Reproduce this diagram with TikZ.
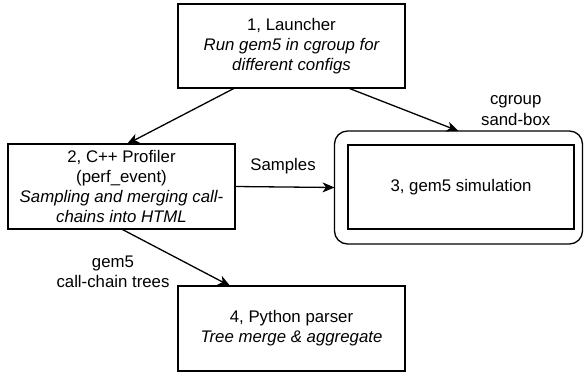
\documentclass[tikz,border=0pt]{standalone}
\usepackage{fontspec}
\setmainfont{Liberation Sans}
\usetikzlibrary{arrows.meta,calc}
\begin{document}
\begin{tikzpicture}[x=1pt,y=-1pt,
  every node/.style={font=\fontsize{16.8}{20.2}\selectfont, align=center, inner sep=0pt, outer sep=0pt},
  box/.style={draw, line width=1.3pt, minimum width=227pt, minimum height=85pt},
  conn/.style={line width=1.3pt, -{Stealth[length=12pt,width=10pt,inset=3.5pt]}},
  lbl/.style={}]
\useasboundingbox (0,0) rectangle (584,376);
\node[box, minimum height=84pt] (b1) at (291.5,46) {1, Launcher\\\itshape Run gem5 in cgroup for\\\itshape different configs};
\node[box] (b2) at (121.5,186.5) {2, C++ Profiler\\(perf\_event)\\\itshape Sampling and merging call-\\\itshape chains into HTML};
\node[draw, line width=1.3pt, rounded corners=13pt, minimum width=248pt, minimum height=113pt] (sb) at (458.5,187.5) {};
\node[box, minimum width=226pt, minimum height=84pt] (b3) at (461,187) {3, gem5 simulation};
\node[box] (b4) at (291.5,328.5) {4, Python parser\\\itshape Tree merge \& aggregate};
\node[lbl] (lsb) at (515.7,110.5) {cgroup\\sand-box};
\node[lbl] (lsa) at (283,166) {Samples};
\node[lbl] (lgc) at (113,272) {gem5\\call-chain trees};
\draw[conn] ($(b1.south west)!0.25!(b1.south east)$) -- ($(b2.north)+(5.5,0)$);
\draw[conn] ($(b1.south west)!0.75!(b1.south east)$) -- (sb.north);
\draw[conn] (b2.east) -- (sb.west);
\draw[conn] (b2.south) -- ($(b4.north west)!0.23!(b4.north east)$);
\end{tikzpicture}
\end{document}
